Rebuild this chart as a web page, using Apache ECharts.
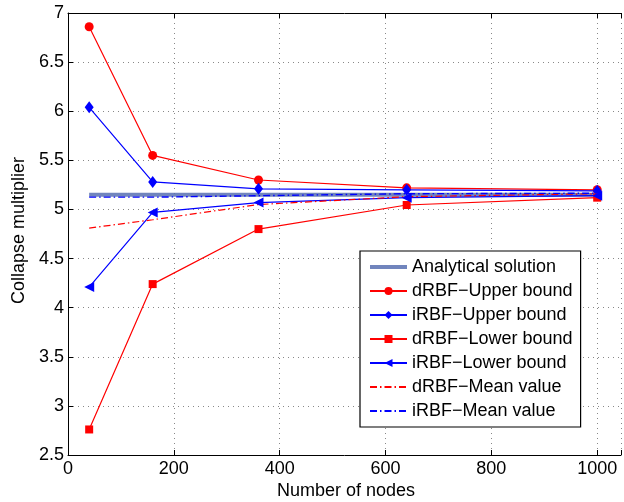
<!DOCTYPE html>
<html><head><meta charset="utf-8">
<script src="https://cdn.jsdelivr.net/npm/echarts@6/dist/echarts.min.js"></script>
<style>html,body{margin:0;padding:0;background:#fff}#c{width:624px;height:502px}</style>
</head><body><div id="c"></div>
<script>
const nodes = [40, 160, 360, 640, 1000];
const analytical = [5.15, 5.15, 5.15, 5.15, 5.15];
const dUpper = [6.86, 5.55, 5.30, 5.22, 5.20];
const iUpper = [6.04, 5.28, 5.21, 5.20, 5.19];
const dLower = [2.76, 4.24, 4.80, 5.045, 5.12];
const iLower = [4.21, 4.97, 5.07, 5.12, 5.14];
const dMean = [4.81, 4.895, 5.05, 5.13, 5.16];
const iMean = [5.125, 5.125, 5.14, 5.16, 5.165];
const xTicks = [0, 200, 400, 600, 800, 1000];
const yTicks = [2.5, 3, 3.5, 4, 4.5, 5, 5.5, 6, 6.5, 7];

const pts = a => a.map((v, i) => [nodes[i], v]);
const FONT = 'Liberation Sans';
const chart = echarts.init(document.getElementById('c'), null, {renderer: 'canvas'});
const dashDot = [7, 3, 1.5, 3];
const anaColor = 'rgba(88,112,178,0.85)';
function ser(name, data, color, symbol, opts) {
  return Object.assign({
    name, type: 'line', data: pts(data), symbol, symbolSize: 9,
    lineStyle: {color, width: 1.2}, itemStyle: {color}, animation: false, z: 3
  }, opts || {});
}
function plain(name, data, color, width, type, z) {
  return {
    name, type: 'line', data: pts(data), symbol: 'circle', showSymbol: false, symbolSize: 0,
    lineStyle: {color, width, type}, itemStyle: {color, opacity: 0}, animation: false, z
  };
}
chart.setOption({
  animation: false,
  grid: {left: 68, top: 13, right: -3, height: 442},
  xAxis: [{
    type: 'value', min: 0, max: 1045, interval: 200,
    axisLine: {lineStyle: {color: '#000', width: 1}},
    axisTick: {inside: true, length: 5, lineStyle: {color: '#000'}},
    axisLabel: {color: '#000', fontSize: 18, fontFamily: FONT, margin: 5,
      formatter: v => (v <= 1000 ? String(v) : '')},
    splitLine: {show: true, lineStyle: {color: '#888', type: [1, 4], width: 1}}
  }, {
    type: 'value', min: 0, max: 1045, interval: 200, position: 'top',
    axisLine: {lineStyle: {color: '#000', width: 1}},
    axisTick: {inside: true, length: 5, lineStyle: {color: '#000'}},
    axisLabel: {show: false}, splitLine: {show: false}
  }],
  yAxis: {
    type: 'value', min: 2.5, max: 7, interval: 0.5,
    axisLine: {show: true, lineStyle: {color: '#000', width: 1}},
    axisTick: {show: true, inside: true, length: 5, lineStyle: {color: '#000'}},
    axisLabel: {color: '#000', fontSize: 18, fontFamily: FONT, margin: 4,
      formatter: v => String(v)},
    splitLine: {show: true, lineStyle: {color: '#888', type: [1, 4], width: 1}}
  },
  legend: {
    orient: 'vertical', left: 360, top: 251,
    backgroundColor: '#fff', borderColor: '#000', borderWidth: 1.2,
    padding: [7, 8, 7, 8], itemWidth: 37, itemHeight: 10, itemGap: 6,
    textStyle: {color: '#000', fontSize: 18, fontFamily: FONT, lineHeight: 18},
    data: [{name: 'Analytical solution', lineStyle: {width: 4, color: anaColor}},
      'dRBF\u2212Upper bound', 'iRBF\u2212Upper bound',
      'dRBF\u2212Lower bound', 'iRBF\u2212Lower bound', 'dRBF\u2212Mean value', 'iRBF\u2212Mean value']
  },
  graphic: [
    {type: 'text', left: 277, top: 482,
      style: {text: 'Number of nodes', font: '18px "Liberation Sans"', fill: '#000'}},
    {type: 'text', rotation: Math.PI / 2, x: 10, y: 304,
      style: {text: 'Collapse multiplier', font: '18px "Liberation Sans"', fill: '#000', textVerticalAlign: 'top'}}
  ],
  series: [
    plain('Analytical solution', analytical, anaColor, 4, 'solid', 2),
    ser('dRBF\u2212Upper bound', dUpper, '#ff0000', 'circle', {symbolSize: 9}),
    ser('iRBF\u2212Upper bound', iUpper, '#0000ff', 'diamond', {symbolSize: [9, 12]}),
    ser('dRBF\u2212Lower bound', dLower, '#ff0000', 'rect', {symbolSize: 8}),
    ser('iRBF\u2212Lower bound', iLower, '#0000ff', 'triangle', {symbolSize: 10, symbolRotate: 90}),
    plain('dRBF\u2212Mean value', dMean, '#ff0000', 1.2, dashDot, 3),
    plain('iRBF\u2212Mean value', iMean, '#0000ff', 1.4, dashDot, 3)
  ]
});
</script></body></html>
